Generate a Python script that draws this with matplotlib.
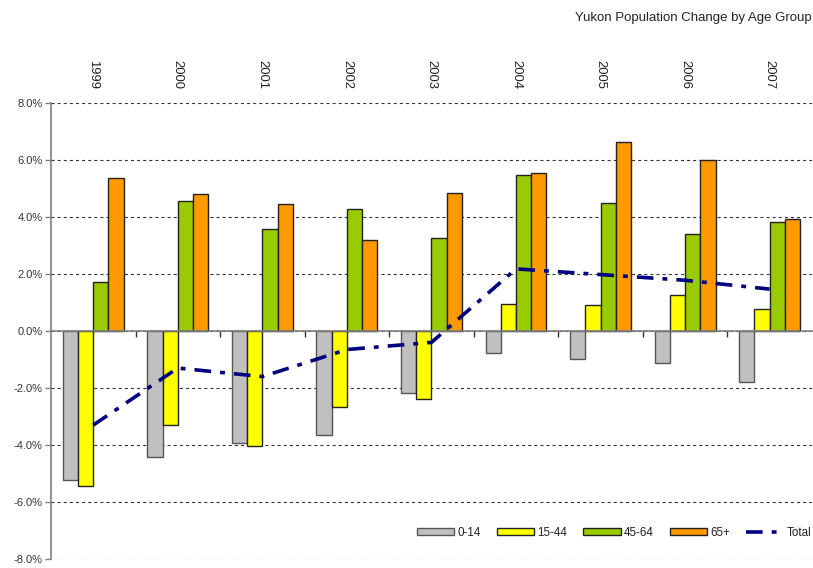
import numpy as np
import matplotlib
matplotlib.use("Agg")
from matplotlib import pyplot as plt
from matplotlib.ticker import FuncFormatter

plt.rcParams['font.family'] = ['Liberation Sans', 'DejaVu Sans']
plt.rcParams['lines.scale_dashes'] = False

# Data (percent change).
years = ["1999", "2000", "2001", "2002", "2003", "2004", "2005", "2006", "2007"]
age_0_14 = [-5.23, -4.42, -3.93, -3.65, -2.18, -0.77, -0.98, -1.12, -1.79]
age_15_44 = [-5.44, -3.30, -4.04, -2.67, -2.39, 0.95, 0.91, 1.26, 0.77]
age_45_64 = [1.72, 4.56, 3.58, 4.28, 3.26, 5.47, 4.49, 3.40, 3.82]
age_65_plus = [5.37, 4.81, 4.46, 3.19, 4.84, 5.54, 6.63, 6.00, 3.93]
total = [-3.30, -1.30, -1.60, -0.65, -0.40, 2.18, 1.98, 1.78, 1.47]

series = [
    ("0-14", age_0_14, "#C0C0C0", "#555555"),
    ("15-44", age_15_44, "#FFFF00", "#222222"),
    ("45-64", age_45_64, "#99CC00", "#222222"),
    ("65+", age_65_plus, "#FF9900", "#222222"),
]

fig = plt.figure(figsize=(8.13, 5.68), dpi=100)
ax = fig.add_axes([0.0627, 0.0158, 0.936, 0.8029])

x = np.arange(len(years))
w = 0.18
for i, (name, vals, color, edge) in enumerate(series):
    ax.bar(x + (i - 1.5) * w, vals, width=w, color=color, edgecolor=edge,
           linewidth=1.0, label=name, zorder=3)

ax.plot(x, total, color="#000080", linewidth=2.6, dashes=(12, 6.5, 3.5, 6.5),
        label="Total", zorder=4)

ax.set_xlim(-0.5, len(years) - 0.5)
ax.set_ylim(-8, 8)
ax.set_yticks(np.arange(-8, 8.1, 2))
ax.yaxis.set_major_formatter(FuncFormatter(lambda v, p: "%.1f%%" % v))
ax.tick_params(axis="y", labelsize=8, colors="#808080", labelcolor="#333333",
               length=4, width=1, pad=2)
ax.grid(axis="y", color="#333333", linestyle=(0, (2.2, 2.2)), linewidth=0.8, zorder=0)

# zero line with category boundary ticks
ax.spines["bottom"].set_position(("data", 0))
ax.spines["bottom"].set_color("#808080")
ax.spines["bottom"].set_linewidth(1.2)
ax.spines["bottom"].set_zorder(5)
ax.spines["left"].set_color("#808080")
ax.spines["left"].set_linewidth(1.2)
ax.spines["top"].set_visible(False)
ax.spines["right"].set_visible(False)
ax.set_xticks(np.arange(0.5, len(years) - 0.5, 1))
ax.set_xticklabels([])
ax.tick_params(axis="x", direction="out", length=4, width=1, colors="#333333")

top = ax.secondary_xaxis("top")
top.set_xticks(x)
top.set_xticklabels(years, rotation=270, fontsize=9.4, color="#222222")
top.tick_params(length=0, pad=10)
top.spines["top"].set_visible(False)

fig.text(0.998, 0.968, "Yukon Population Change by Age Group", ha="right",
         va="center", fontsize=9.5, color="#222222")

handles, labels = ax.get_legend_handles_labels()
order = [1, 2, 3, 4, 0]
leg = ax.legend([handles[k] for k in order], [labels[k] for k in order],
                loc="center right", bbox_to_anchor=(0.998, 0.062),
                bbox_transform=fig.transFigure, ncol=5, frameon=False,
                fontsize=8.4, handlelength=3.2, handleheight=0.55, handletextpad=0.25,
                columnspacing=1.4, borderaxespad=0, borderpad=0)
for t in leg.get_texts():
    t.set_color("#222222")

fig.savefig("out.png", dpi=100)
